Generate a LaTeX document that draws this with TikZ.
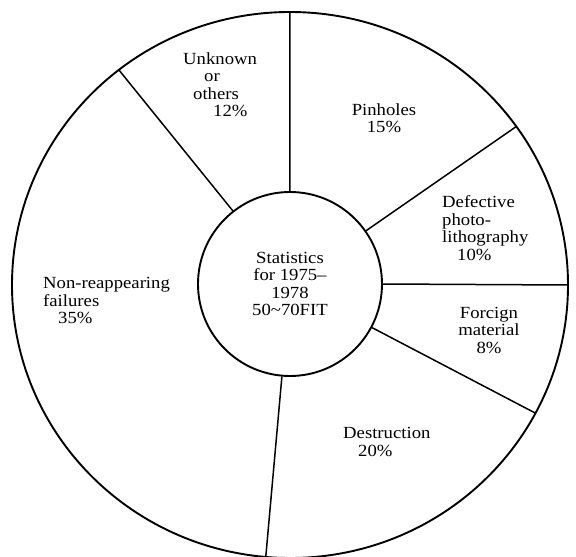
\documentclass[tikz,border=0pt]{standalone}
\usepackage{fontspec}
\setmainfont[FakeStretch=1.1]{Liberation Serif}
\usetikzlibrary{positioning}

\begin{document}
\begin{tikzpicture}[x=1pt,y=1pt,
lbl/.style={font=\fontsize{17}{17.5}\selectfont,inner sep=0pt},
spoke/.style={line width=1.5pt}]
\useasboundingbox(-290,-272) rectangle (286,285);
\draw[line width=1.9pt](0,0) ellipse [x radius=278,y radius=273];
\node[lbl,circle,draw,line width=1.9pt,minimum size=184pt,align=center](stat) at (0,1)
{Statistics\\for 1975--\\1978\\50\textasciitilde70FIT};
% rim points of the spokes
\coordinate (rimtop) at (90:278 and 273);
\coordinate (rimpin) at (35.5:278 and 273);
\coordinate (rimphoto) at (0:278 and 273);
\coordinate (rimfore) at (-28:278 and 273);
\coordinate (rimdestr) at (-95:278 and 273);
\coordinate (rimunkn) at (128:278 and 273);
\draw[spoke](stat.90)--(rimtop)
(stat.35.5)--(rimpin)
(stat.0)--(rimphoto)
(stat.-28)--(rimfore)
(stat.-95)--(rimdestr)
(stat.128)--(rimunkn);
% labels
\node[lbl,align=left,anchor=west](unkn) at (-107,200.5)
{Unknown\\\hspace*{21pt}or\\\hspace*{10pt}others\\\hspace*{30pt}12\%};
\node[lbl,align=center](pin) at (94,167){Pinholes\\15\%};
\node[lbl,align=left,anchor=west](photo) at (152,57)
{Defective\\photo-\\lithography\\\hspace*{15pt}10\%};
\node[lbl,align=center](fore) at (199,-45){Forcign\\material\\8\%};
\node[lbl,align=left,anchor=west](destr) at (53,-157)
{Destruction\\\hspace*{15pt}20\%};
\node[lbl,align=left,anchor=west](nonre) at (-247,-15.5)
{Non-reappearing\\failures\\\hspace*{15pt}35\%};
\end{tikzpicture}
\end{document}
